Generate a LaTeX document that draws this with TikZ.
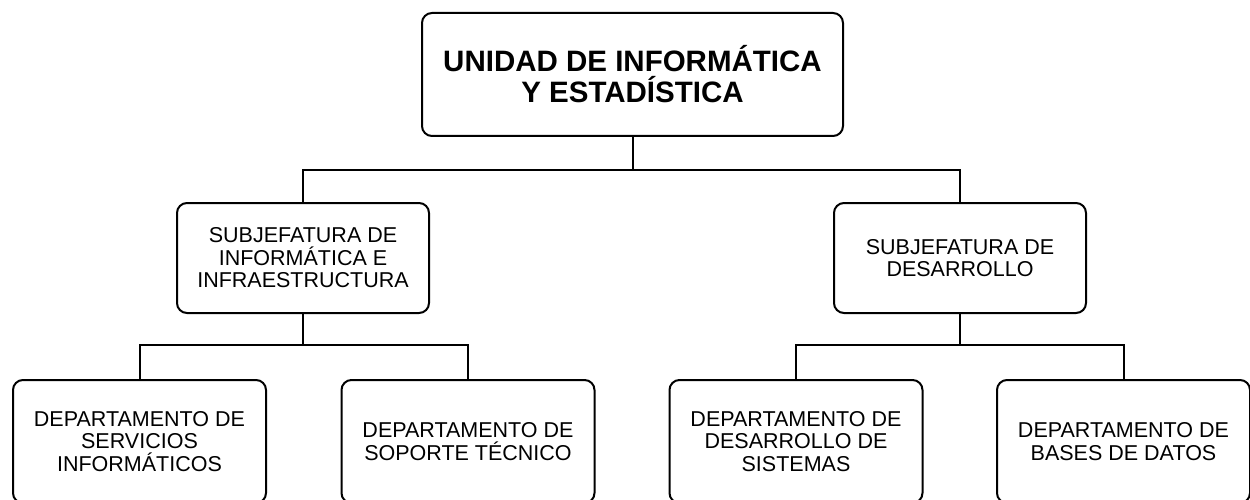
\documentclass[tikz,border=0pt]{standalone}
\usepackage{fontspec}
\setmainfont{Liberation Sans}
\begin{document}
\begin{tikzpicture}[x=1pt,y=-1pt,
  box/.style={draw=black, line width=2pt, rounded corners=10pt, fill=white,
    align=center, inner sep=0pt, font=\fontsize{21.5}{22.5}\selectfont},
  topbox/.style={box, minimum width=421pt, minimum height=123pt,
    font=\fontsize{29.5}{31}\selectfont\bfseries},
  subbox/.style={box, minimum width=252pt, minimum height=110pt},
  depbox/.style={box, minimum width=253pt, minimum height=123pt},
  link/.style={draw=black, line width=2pt}]
\useasboundingbox (0,0) rectangle (1250,500);
\fill[white] (0,0) rectangle (1250,500);

\node[topbox] (top) at (632.5,74.5) {UNIDAD DE INFORMÁTICA\\Y ESTADÍSTICA};
\node[subbox] (s1) at (303,258) {SUBJEFATURA DE\\INFORMÁTICA E\\INFRAESTRUCTURA};
\node[subbox] (s2) at (960,258) {SUBJEFATURA DE\\DESARROLLO};
\node[depbox] (b1) at (139.5,441.5) {DEPARTAMENTO DE\\SERVICIOS\\INFORMÁTICOS};
\node[depbox] (b2) at (468,441.5) {DEPARTAMENTO DE\\SOPORTE TÉCNICO};
\node[depbox] (b3) at (796,441.5) {DEPARTAMENTO DE\\DESARROLLO DE\\SISTEMAS};
\node[depbox] (b4) at (1123.5,441.5) {DEPARTAMENTO DE\\BASES DE DATOS};

\coordinate (j0) at (632.5,170);
\coordinate (j1) at (303,345);
\coordinate (j2) at (960,345);

\draw[link] (top.south) -- (j0);
\draw[link] (s1.north) |- (j0) -| (s2.north);
\draw[link] (s1.south) -- (j1);
\draw[link] (b1.north) |- (j1) -| (b2.north);
\draw[link] (s2.south) -- (j2);
\draw[link] (b3.north) |- (j2) -| (b4.north);
\end{tikzpicture}
\end{document}
